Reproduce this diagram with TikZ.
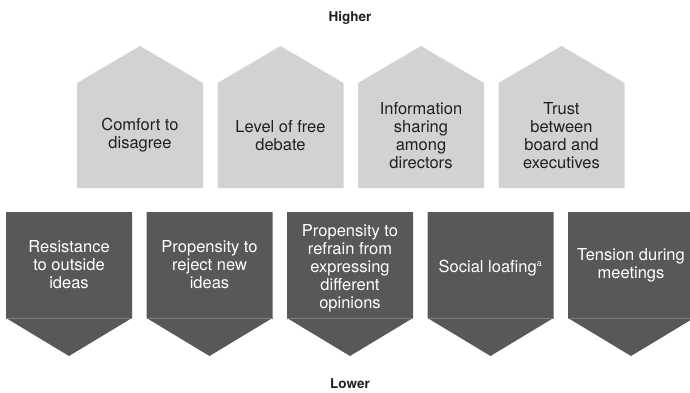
\documentclass[tikz,border=0pt]{standalone}
\usepackage{fontspec}
\setmainfont{TeX Gyre Heros}
\definecolor{upfill}{HTML}{D1D2D4}
\definecolor{downfill}{HTML}{58585A}
\definecolor{downline}{HTML}{7E7E80}
\definecolor{inktext}{HTML}{231F20}
\tikzset{
    uptext/.style={align=center, text=inktext, font=\fontsize{16.5}{18}\selectfont},
    downtext/.style={align=center, text=white, font=\fontsize{16.5}{18}\selectfont},
    endlabel/.style={text=inktext, font=\fontsize{13.5}{16}\selectfont\bfseries}
}
\begin{document}
\begin{tikzpicture}[x=1pt,y=1pt]
            \useasboundingbox (0,0) rectangle (690,392);
            % upper row, pointing up
            \fill [upfill] (77,204)--(77,309)--(140,346)--(203,309)--(203,204)--cycle;
            \fill [upfill] (217.5,204)--(217.5,309)--(280.5,346)--(343.5,309)--(343.5,204)--cycle;
            \fill [upfill] (358,204)--(358,309)--(421,346)--(484,309)--(484,204)--cycle;
            \fill [upfill] (498.5,204)--(498.5,309)--(561.5,346)--(624.5,309)--(624.5,204)--cycle;
            % lower row, pointing down
            \fill [downfill] (6,180)--(6,74)--(69,36)--(132,74)--(132,180)--cycle;
            \fill [downfill] (146.5,180)--(146.5,74)--(209.5,36)--(272.5,74)--(272.5,180)--cycle;
            \fill [downfill] (287,180)--(287,74)--(350,36)--(413,74)--(413,180)--cycle;
            \fill [downfill] (427.5,180)--(427.5,74)--(490.5,36)--(553.5,74)--(553.5,180)--cycle;
            \fill [downfill] (568,180)--(568,74)--(631,36)--(694,74)--(694,180)--cycle;
            \draw [downline, line width=0.6pt] (6,74)--(132,74);
            \draw [downline, line width=0.6pt] (146.5,74)--(272.5,74);
            \draw [downline, line width=0.6pt] (287,74)--(413,74);
            \draw [downline, line width=0.6pt] (427.5,74)--(553.5,74);
            \draw [downline, line width=0.6pt] (568,74)--(694,74);
            % labels
            \node [uptext] (comfort) at(140,256.5) {Comfort to\\disagree};
            \node [uptext] (debate) at(280.5,256.5) {Level of free\\debate};
            \node [uptext] (sharing) at(421,256.5) {Information\\sharing\\among\\directors};
            \node [uptext] (trust) at(561.5,256.5) {Trust\\between\\board and\\executives};
            \node [downtext] (resist) at(69,127) {Resistance\\to outside\\ideas};
            \node [downtext] (reject) at(209.5,127) {Propensity to\\reject new\\ideas};
            \node [downtext] (refrain) at(350,124) {Propensity to\\refrain from\\expressing\\different\\opinions};
            \node [downtext] (loafing) at(490.5,124) {Social loafing\textsuperscript{\fontsize{9}{9}\selectfont a}};
            \node [downtext] (tension) at(631,127) {Tension during\\meetings};
            \node [endlabel] (higher) at(350,374) {Higher};
            \node [endlabel] (lower) at(350,8) {Lower};
        \end{tikzpicture}
\end{document}
